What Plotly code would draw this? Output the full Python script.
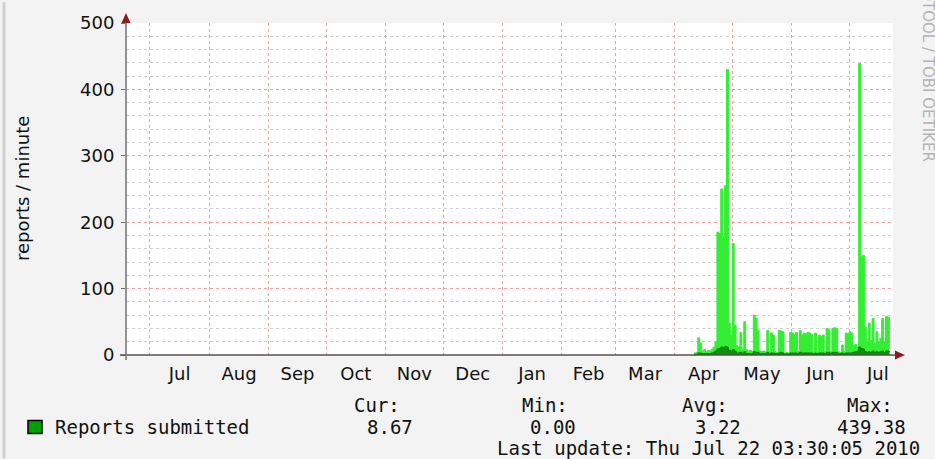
import pandas as pd
import plotly.graph_objects as go

# daily values, first day 2010-04-11
start_day = "2010-04-11"
peak_rate = [
    3, 4, 26, 18, 6, 8, 5, 7, 6, 9, 12, 20,
    185, 183, 250, 178, 255, 430, 48, 30, 168, 45, 14, 12, 34, 8, 50, 8,
    6, 7, 5, 60, 55, 37, 6, 5, 6, 5, 37, 5, 33, 30, 5, 4, 37, 36, 35,
    3, 4, 3, 34, 33, 30, 34, 5, 37, 30, 33, 32, 34, 33, 31, 5, 33, 5,
    30, 28, 30, 5, 40, 38, 5, 40, 41, 40, 5, 4, 15, 5, 33, 32, 35, 33,
    14, 16, 12, 439, 148, 150, 42, 20, 48, 22, 55, 18, 35, 20, 25, 55,
    20, 58, 57, 9,
]
avg_rate = [
    1, 1, 3, 3, 2, 2, 2, 2, 2, 3, 4, 6,
    9, 10, 12, 11, 13, 12, 7, 5, 8, 6, 3, 3, 4, 2, 5, 2,
    2, 2, 2, 5, 4, 4, 2, 2, 2, 2, 4, 2, 3, 3, 2, 2, 3, 4, 3,
    1, 2, 1, 3, 3, 3, 3, 2, 4, 3, 3, 3, 3, 3, 3, 2, 3, 2,
    3, 3, 3, 2, 4, 4, 2, 4, 4, 4, 2, 2, 3, 2, 3, 3, 3, 3,
    4, 5, 5, 12, 10, 9, 5, 4, 5, 4, 6, 4, 5, 4, 5, 6,
    4, 6, 6, 4,
]
days = pd.date_range(start_day, periods=len(peak_rate), freq="D")

x_range = ["2009-06-18 12:00", "2010-07-23 22:00"]
y_ticks = [0, 100, 200, 300, 400, 500]

legend_name = "Reports submitted"
stat_labels = ["Cur:", "Min:", "Avg:", "Max:"]
stat_values = ["8.67", "0.00", "3.22", "439.38"]
last_update = "Last update: Thu Jul 22 03:30:05 2010"

W, H = 935, 459
L, R, T, B = 126, 42, 21, 104
PW, PH = W - L - R, H - T - B


def px(x):
    return (x - L) / PW


def py(y):
    return (H - B - y) / PH


fig = go.Figure()
fig.add_trace(go.Scatter(
    x=days, y=peak_rate, mode="lines", line=dict(shape="hv", width=1, color="#2fef2f"),
    fill="tozeroy", fillcolor="#33ee33", name=legend_name, showlegend=False,
))
fig.add_trace(go.Scatter(
    x=days, y=avg_rate, mode="lines", line=dict(shape="hv", width=1, color="#0a7a0a"),
    fill="tozeroy", fillcolor="#0f8f0f", showlegend=False,
))

mono = dict(family="DejaVu Sans Mono", size=19, color="#111111")
ann = []
stat_x = [377, 545, 705, 870]
stat_vx = [390, 553, 718, 871]
for lab, val, xl, xv in zip(stat_labels, stat_values, stat_x, stat_vx):
    ann.append(dict(x=px(xl), y=py(405), text=lab, font=mono))
    ann.append(dict(x=px(xv), y=py(427), text=val, font=mono))
ann.append(dict(x=px(53), y=py(427), text=legend_name, font=mono, xanchor="left"))
ann.append(dict(x=px(922), y=py(449), text=last_update, font=mono, xanchor="right"))
ann.append(dict(x=px(22), y=py(188), text="reports / minute", textangle=-90,
                font=dict(family="DejaVu Sans", size=18, color="#111111")))
# watermark runs off the top edge, as in the original
ann.append(dict(x=px(928), y=py(162), text="RRDTOOL / TOBI OETIKER", textangle=90,
                yanchor="bottom", font=dict(family="DejaVu Sans", size=15, color="#b4b4b4")))
for a in ann:
    a.setdefault("xref", "paper")
    a.setdefault("yref", "paper")
    a.setdefault("showarrow", False)
    a.setdefault("xanchor", "center")
    a.setdefault("yanchor", "middle")

shapes = [
    # frame line at the left edge
    dict(type="line", xref="paper", yref="paper", x0=px(4), x1=px(4), y0=py(0), y1=py(459),
         line=dict(color="#cfcfcf", width=3)),
    # axes
    dict(type="line", xref="paper", yref="paper", x0=px(120), x1=px(897), y0=0, y1=0,
         line=dict(color="#5a5050", width=1.5)),
    dict(type="line", xref="paper", yref="paper", x0=0, x1=0, y0=py(360), y1=py(16),
         line=dict(color="#707070", width=1.5)),
    # arrow heads
    dict(type="path", xref="paper", yref="paper",
         path=f"M {px(895)} {py(350.5)} L {px(905)} {py(355)} L {px(895)} {py(359.5)} Z",
         fillcolor="#8b1a1a", line=dict(width=0)),
    dict(type="path", xref="paper", yref="paper",
         path=f"M {px(121.5)} {py(21)} L {px(126)} {py(11)} L {px(130.5)} {py(21)} Z",
         fillcolor="#8b1a1a", line=dict(width=0)),
    # legend swatch
    dict(type="rect", xref="paper", yref="paper", x0=px(28), x1=px(42), y0=py(434), y1=py(421),
         fillcolor="#00a000", line=dict(color="#000000", width=1.5)),
]

fig.update_layout(
    width=W, height=H,
    margin=dict(l=L, r=R, t=T, b=B),
    paper_bgcolor="#f3f3f3", plot_bgcolor="#ffffff",
    annotations=ann, shapes=shapes,
    showlegend=False,
    xaxis=dict(
        type="date", range=x_range, dtick="M1", tick0="2009-07-01",
        ticklabelmode="period", tickformat="%b", ticks="",
        showgrid=True, gridcolor="#f4a0a0", griddash="dot", gridwidth=1,
        showline=False, zeroline=False, ticklabelstandoff=6,
        tickfont=dict(family="DejaVu Sans", size=18, color="#111111"),
    ),
    yaxis=dict(
        range=[0, 500], tickvals=y_ticks, ticks="outside", ticklen=4, tickcolor="#707070",
        showgrid=True, gridcolor="#f4a0a0", griddash="dot", gridwidth=1,
        minor=dict(dtick=20, tick0=0, showgrid=True, gridcolor="#d0d0d0", griddash="dot"),
        showline=False, zeroline=False, ticklabelstandoff=3,
        tickfont=dict(family="DejaVu Sans", size=18, color="#111111"),
    ),
)

fig.write_html(
    "out.html",
    config={"displayModeBar": False},
    post_script="document.body.style.margin='0';",
)
